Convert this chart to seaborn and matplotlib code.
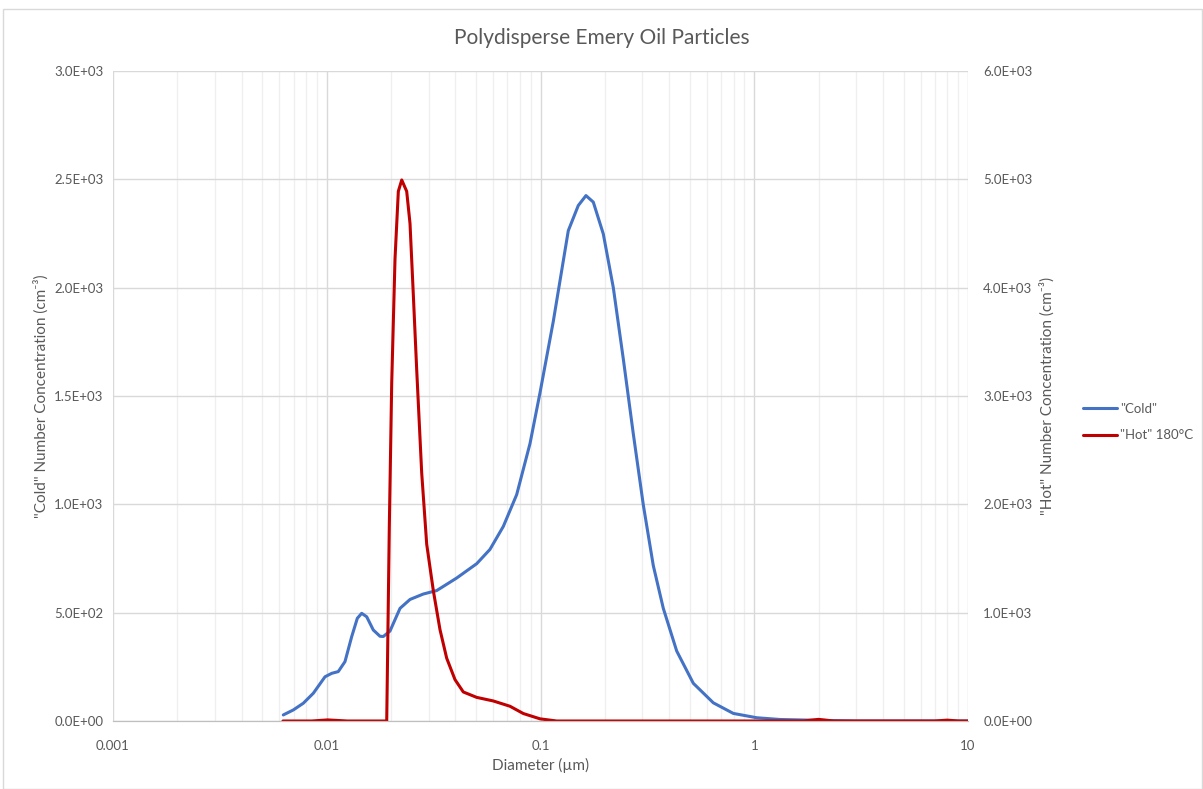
import numpy as np
import pandas as pd
import seaborn as sns
import matplotlib.pyplot as plt
from matplotlib.ticker import LogLocator, FixedLocator, FuncFormatter, NullFormatter
from matplotlib.patches import Rectangle
from matplotlib.lines import Line2D

## Values
cold_diam = [0.006262, 0.006975, 0.007768, 0.008652, 0.009813, 0.01055, 0.01132, 0.01217,
             0.01308, 0.0139, 0.01457, 0.01538, 0.01651, 0.01775, 0.01839, 0.01976,
             0.02202, 0.02452, 0.02829, 0.03269, 0.04055, 0.05029, 0.05802, 0.06699,
             0.07738, 0.08929, 0.09947, 0.1148, 0.1349, 0.1502, 0.1632, 0.1766,
             0.1967, 0.2191, 0.244, 0.2717, 0.3027, 0.3371, 0.3754, 0.4337,
             0.5187, 0.6433, 0.798, 1.027, 1.32, 2.0, 3.0, 10.0]
cold_conc = [28, 51, 82, 128, 204, 220, 228, 274,
             389, 474, 497, 481, 420, 391, 390, 415,
             520, 561, 586, 602, 660, 726, 792, 898,
             1045, 1280, 1515, 1845, 2263, 2379, 2425, 2395,
             2248, 2000, 1671, 1326, 997, 717, 520, 323,
             174, 84, 35, 15, 7, 3, 0, 0]

hot_diam = [0.00624, 0.0085, 0.0101, 0.0125, 0.01908, 0.01962, 0.02013, 0.02086, 0.02162,
            0.02243, 0.02366, 0.02452, 0.02541, 0.02635, 0.02781, 0.02935, 0.03151,
            0.03387, 0.0364, 0.03981, 0.04353, 0.05029, 0.06013, 0.07199, 0.08309,
            0.09947, 0.1191, 0.3, 1.0, 1.7, 2.0, 2.35, 4.0, 7.0, 8.0, 9.0, 10.0]
hot_conc = [0, 0, 10, 0, 0, 1796, 3113, 4264, 4889,
            4994, 4889, 4592, 3935, 3244, 2290, 1632, 1205,
            843, 580, 382, 268, 218, 185, 136, 69,
            20, 0, 0, 0, 0, 15, 0, 0, 0, 8, 0, 0]

cold_label = '"Cold"'
hot_label = '"Hot" 180°C'
x_ticks = [0.001, 0.01, 0.1, 1, 10]
x_tick_labels = ['0.001', '0.01', '0.1', '1', '10']
left_ticks = [0, 500, 1000, 1500, 2000, 2500, 3000]
right_ticks = [0, 1000, 2000, 3000, 4000, 5000, 6000]

df_cold = pd.DataFrame({'diam': cold_diam, 'conc': cold_conc})
df_hot = pd.DataFrame({'diam': hot_diam, 'conc': hot_conc})

## Style
sns.set_style("white")
plt.rcParams['font.family'] = ['Lato', 'DejaVu Sans']
text_grey = '#595959'
blue = '#4472C4'
red = '#C00000'

fig = plt.figure(figsize=(12.03, 7.89), dpi=100)
ax = fig.add_axes([113/1203, 1-721/789, (968-113)/1203, (721-71)/789])
ax2 = ax.twinx()

sns.lineplot(data=df_cold, x='diam', y='conc', ax=ax, color=blue, linewidth=2.2,
             label=cold_label, legend=False)
sns.lineplot(data=df_hot, x='diam', y='conc', ax=ax2, color=red, linewidth=2.2,
             label=hot_label, legend=False)

ax.set_xscale('log')
ax.set_xlim(0.001, 10)
ax.set_ylim(0, 3000)
ax2.set_ylim(0, 6000)

ax.xaxis.set_major_locator(FixedLocator(x_ticks))
ax.set_xticklabels(x_tick_labels)
ax.xaxis.set_minor_locator(LogLocator(base=10, subs=np.arange(2, 10)))
ax.xaxis.set_minor_formatter(NullFormatter())
ax.set_yticks(left_ticks)
ax2.set_yticks(right_ticks)
sci = FuncFormatter(lambda v, p: '{:.1E}'.format(v))
ax.yaxis.set_major_formatter(sci)
ax2.yaxis.set_major_formatter(sci)

ax.grid(which='major', axis='both', color='#d9d9d9', linewidth=1.0)
ax.grid(which='minor', axis='x', color='#efefef', linewidth=0.9)
ax.set_axisbelow(True)

for a in (ax, ax2):
    for s in a.spines.values():
        s.set_visible(False)
    a.spines['bottom'].set_visible(True)
    a.spines['bottom'].set_color('#bfbfbf')
    a.tick_params(axis='both', which='both', length=0, labelsize=9.5, labelcolor=text_grey)
ax.tick_params(axis='x', pad=14)
ax.tick_params(axis='y', pad=7)
ax2.tick_params(axis='y', pad=11)

ax.set_xlabel('Diameter (µm)', fontsize=11, color=text_grey, labelpad=4)
ax.set_ylabel('"Cold" Number Concentration (cm⁻³)', fontsize=11, color=text_grey, labelpad=4)
ax2.set_ylabel('"Hot" Number Concentration (cm⁻³)', fontsize=11, color=text_grey,
               labelpad=5, rotation=90)

fig.text(0.5, 1-38/789, 'Polydisperse Emery Oil Particles', ha='center', va='center',
         fontsize=15, color=text_grey)

handles = [Line2D([], [], color=blue, linewidth=2.2), Line2D([], [], color=red, linewidth=2.2)]
fig.legend(handles, [cold_label, hot_label], loc='center left',
           bbox_to_anchor=(1071/1203, 1-422/789), frameon=False, fontsize=9.5,
           labelcolor=text_grey, handlelength=2.6, handletextpad=0.2, labelspacing=1.1)

fig.patches.append(Rectangle((3/1203, 0), 1199/1203, 1-9/789, transform=fig.transFigure,
                             fill=False, edgecolor='#d9d9d9', linewidth=1))

fig.savefig('out.png', dpi=100)
